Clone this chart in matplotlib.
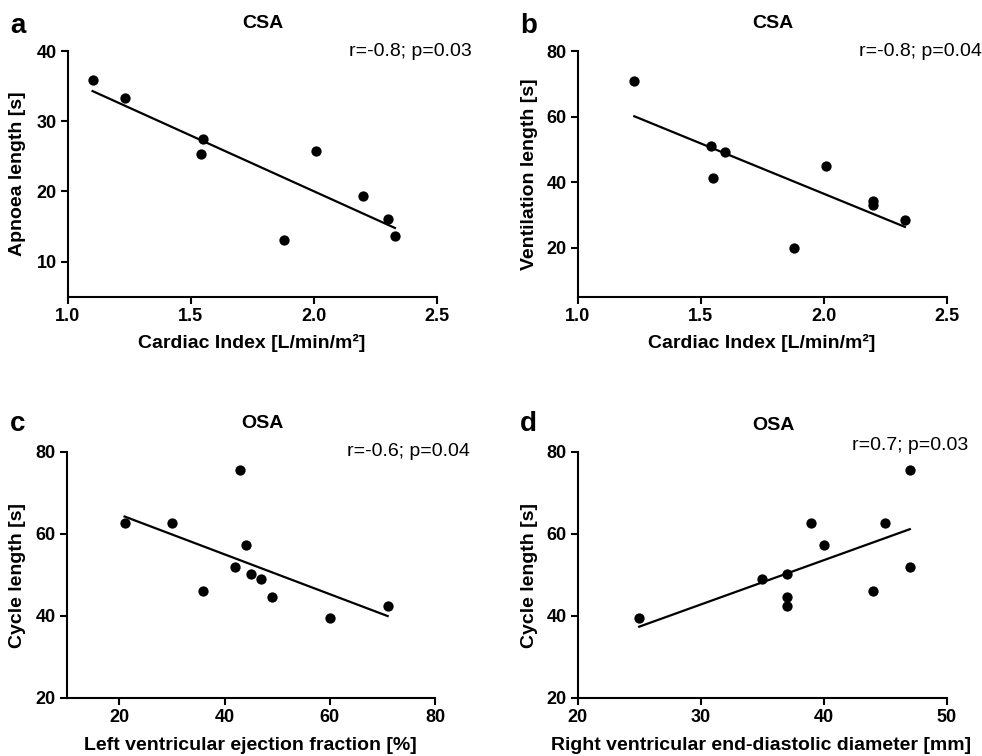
import numpy as np
import matplotlib
matplotlib.use("Agg")
import matplotlib.pyplot as plt

plt.rcParams['font.family'] = ['Liberation Sans', 'DejaVu Sans']

# Panel a: CSA, Cardiac index vs apnoea length
ci_a = [1.10, 1.23, 1.55, 1.54, 2.01, 1.88, 2.20, 2.30, 2.33]
apnoea = [35.9, 33.3, 27.4, 25.3, 25.7, 13.1, 19.4, 16.0, 13.6]

# Panel b: CSA, Cardiac index vs ventilation length
ci_b = [1.23, 1.54, 1.60, 1.55, 2.01, 1.88, 2.20, 2.20, 2.33]
ventilation = [70.9, 50.9, 49.3, 41.1, 44.8, 19.9, 34.3, 33.1, 28.5]

# Panel c: OSA, LVEF vs cycle length
lvef = [21, 30, 43, 36, 44, 42, 45, 47, 49, 60, 71]
cycle_c = [62.6, 62.8, 75.5, 46.1, 57.3, 51.9, 50.3, 49.0, 44.6, 39.6, 42.4]

# Panel d: OSA, RVEDD vs cycle length
rvedd = [25, 35, 37, 37, 37, 39, 40, 44, 45, 47, 47]
cycle_d = [39.6, 49.0, 50.3, 44.6, 42.4, 62.8, 57.3, 46.1, 62.6, 75.5, 51.9]

W, H = 982, 756
fig = plt.figure(figsize=(W / 100, H / 100), dpi=100)


def px_axes(l, t, r, b):
    return fig.add_axes([l / W, 1 - b / H, (r - l) / W, (b - t) / H])


def ftxt(x, y, s, **kw):
    fig.text(x / W, 1 - y / H, s, **kw)


panels = [
    dict(box=(68, 51, 436.7, 296.7), x=ci_a, y=apnoea, xlim=(1.0, 2.5), ylim=(5, 40),
         xticks=[1.0, 1.5, 2.0, 2.5], yticks=[10, 20, 30, 40], xfmt='{:.1f}',
         letter='a', letter_xy=(10, 33), title='CSA', title_xy=(263, 23),
         stat='r=-0.8; p=0.03', stat_xy=(472, 51),
         xlabel='Cardiac Index [L/min/m²]', xlabel_xy=(252, 343),
         ylabel='Apnoea length [s]', ylabel_xy=(18, 174)),
    dict(box=(577.7, 51, 946.7, 296.7), x=ci_b, y=ventilation, xlim=(1.0, 2.5), ylim=(5, 80),
         xticks=[1.0, 1.5, 2.0, 2.5], yticks=[20, 40, 60, 80], xfmt='{:.1f}',
         letter='b', letter_xy=(520, 33), title='CSA', title_xy=(773, 23),
         stat='r=-0.8; p=0.04', stat_xy=(982, 51),
         xlabel='Cardiac Index [L/min/m²]', xlabel_xy=(762, 343),
         ylabel='Ventilation length [s]', ylabel_xy=(530, 174)),
    dict(box=(66.7, 452, 435, 698), x=lvef, y=cycle_c, xlim=(10, 80), ylim=(20, 80),
         xticks=[20, 40, 60, 80], yticks=[20, 40, 60, 80], xfmt='{:.0f}',
         letter='c', letter_xy=(10, 431), title='OSA', title_xy=(262, 424),
         stat='r=-0.6; p=0.04', stat_xy=(470, 452),
         xlabel='Left ventricular ejection fraction [%]', xlabel_xy=(250, 745),
         ylabel='Cycle length [s]', ylabel_xy=(18, 575)),
    dict(box=(577.7, 452, 946.7, 698), x=rvedd, y=cycle_d, xlim=(20, 50), ylim=(20, 80),
         xticks=[20, 30, 40, 50], yticks=[20, 40, 60, 80], xfmt='{:.0f}',
         letter='d', letter_xy=(520, 431), title='OSA', title_xy=(773, 425),
         stat='r=0.7; p=0.03', stat_xy=(968, 445),
         xlabel='Right ventricular end-diastolic diameter [mm]', xlabel_xy=(761, 745),
         ylabel='Cycle length [s]', ylabel_xy=(530, 575)),
]

for p in panels:
    ax = px_axes(*p['box'])
    x = np.array(p['x'], dtype=float)
    y = np.array(p['y'], dtype=float)
    ax.scatter(x, y, s=55, color='black', zorder=3, clip_on=False, linewidths=0)
    k, b0 = np.polyfit(x, y, 1)
    xs = np.array([x.min(), x.max()])
    ax.plot(xs, k * xs + b0, color='black', lw=1.6, zorder=2)
    ax.set_xlim(*p['xlim'])
    ax.set_ylim(*p['ylim'])
    ax.set_xticks(p['xticks'])
    ax.set_xticklabels([p['xfmt'].format(v) for v in p['xticks']])
    ax.set_yticks(p['yticks'])
    ax.set_yticklabels([str(v) for v in p['yticks']])
    for side in ('top', 'right'):
        ax.spines[side].set_visible(False)
    for side in ('left', 'bottom'):
        ax.spines[side].set_linewidth(1.5)
        ax.spines[side].set_color('black')
    ax.tick_params(direction='out', length=5, width=1.5, color='black', labelsize=13, pad=3)
    for lab in ax.get_xticklabels() + ax.get_yticklabels():
        lab.set_fontweight('bold')
    ax.patch.set_alpha(0)

    ftxt(*p['letter_xy'], p['letter'], fontsize=20, fontweight='bold', ha='left', va='baseline')
    ftxt(*p['title_xy'], p['title'], fontsize=14, fontweight='bold', ha='center', va='center')
    ftxt(*p['stat_xy'], p['stat'], fontsize=14, ha='right', va='center')
    ftxt(*p['xlabel_xy'], p['xlabel'], fontsize=14, fontweight='bold', ha='center', va='center')
    ftxt(*p['ylabel_xy'], p['ylabel'], fontsize=14, fontweight='bold', ha='center', va='center',
         rotation=90)

fig.savefig('out.png', dpi=100)
